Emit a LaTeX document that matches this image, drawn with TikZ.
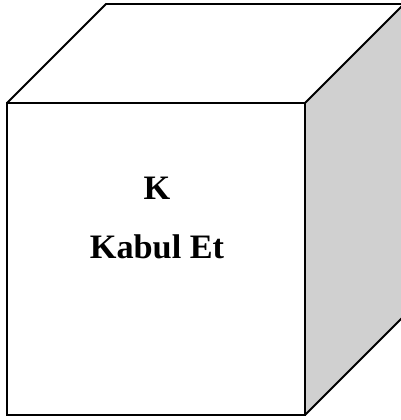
\documentclass[tikz,border=0pt]{standalone}
\usepackage{fontspec}
\setmainfont{Liberation Serif}
\usetikzlibrary{calc}
\definecolor{sidegray}{RGB}{208,208,208}

\begin{document}
\begin{tikzpicture}[
		x=0.02cm, y=-0.02cm,
		edge/.style={draw=black, line width=1.1pt, line join=miter},
		lbl/.style={font=\bfseries\fontsize{19.5}{23}\selectfont, align=center}
		]
		\useasboundingbox (0,0) rectangle (401,420);
		% corners of the cube
		\coordinate (ftl) at (7,103);
		\coordinate (ftr) at (305,103);
		\coordinate (fbl) at (7,415);
		\coordinate (fbr) at (305,415);
		\coordinate (btl) at (106,4);
		\coordinate (btr) at (404,4);
		\coordinate (bbr) at (404,316);
		
		\begin{scope}
			\clip (0,0) rectangle (401,420);
			\fill[white] (ftl) -- (btl) -- (btr) -- (ftr) -- cycle;
			\fill[sidegray] (ftr) -- (btr) -- (bbr) -- (fbr) -- cycle;
			\draw[edge] (ftl) -- (btl) -- (btr) -- (ftr);
			\draw[edge] (btr) -- (bbr) -- (fbr);
			\draw[edge, fill=white] (ftl) rectangle (fbr);
		\end{scope}
		
		\node[lbl] (kay)   at (157,188) {K};
		\node[lbl] (kabul) at (157,247) {Kabul Et};
	\end{tikzpicture}
\end{document}
